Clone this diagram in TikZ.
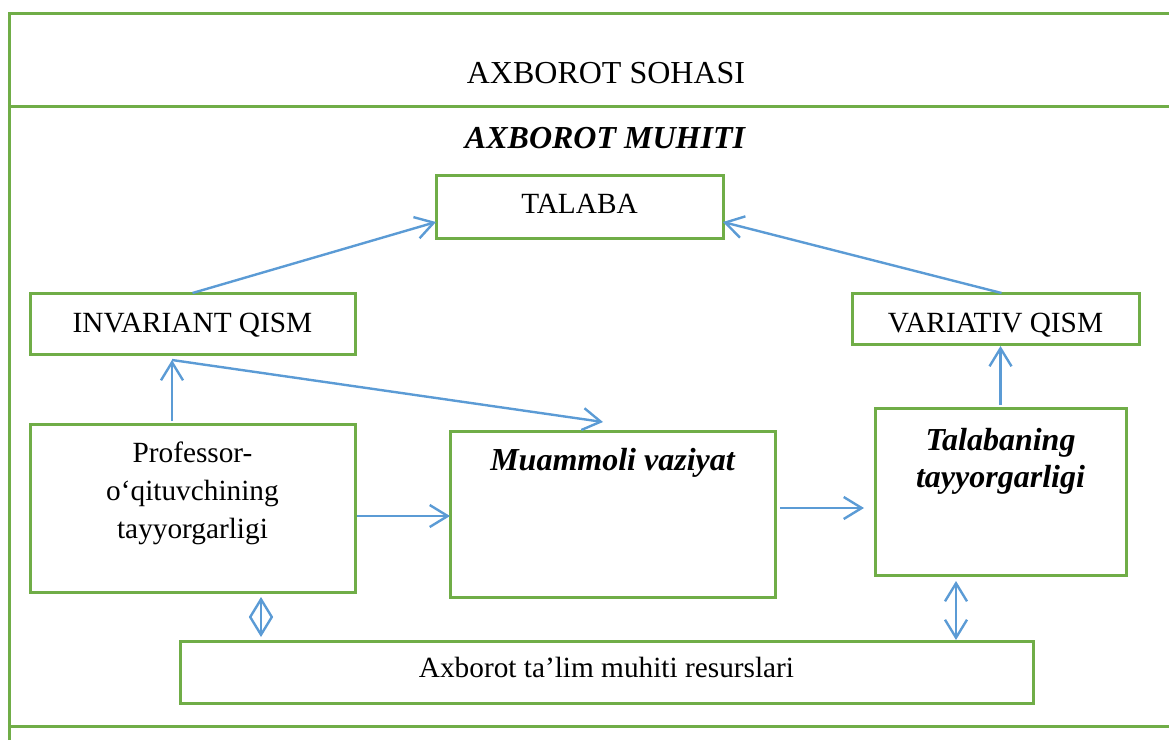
\documentclass[tikz,border=0pt]{standalone}
\usepackage{fontspec}
\setmainfont{Liberation Serif}
\usetikzlibrary{arrows.meta}
\definecolor{frgreen}{HTML}{70AD47}
\definecolor{arblue}{HTML}{5B9BD5}
\begin{document}
\begin{tikzpicture}[x=1pt,y=-1pt,
  font=\fontsize{29.3}{37}\selectfont,
  box/.style={draw=frgreen,line width=3pt,rectangle,inner sep=0pt,outer sep=0pt},
  txt/.style={anchor=base,inner sep=0pt,outer sep=0pt},
  bi/.style={txt,font=\fontsize{32}{38}\selectfont\bfseries\itshape},
  conn/.style={draw=arblue,line width=2.4pt,-{Straight Barb[length=18pt,width=22pt]}},
  dconn/.style={draw=arblue,line width=2.4pt,{Straight Barb[length=18pt,width=22pt]}-{Straight Barb[length=18pt,width=22pt]}}]
\useasboundingbox (0,0) rectangle (1169,740);
% outer frame
\draw[frgreen,line width=3pt] (9,740) -- (9,13) -- (1169,13);
\draw[frgreen,line width=3pt] (9,106) -- (1169,106);
\draw[frgreen,line width=3pt] (9,726) -- (1169,726);
% titles
\node[txt,font=\fontsize{32}{38}\selectfont] (sohasi) at (606,83) {AXBOROT SOHASI};
\node[bi] (muhiti) at (605,148) {AXBOROT MUHITI};
% boxes
\node[box,minimum width=287pt,minimum height=63pt] (tal) at (579.5,206.5) {};
\node[box,minimum width=325pt,minimum height=61pt] (inv) at (192.5,323.5) {};
\node[box,minimum width=287pt,minimum height=51pt] (var) at (995.5,318.5) {};
\node[box,minimum width=325pt,minimum height=168pt] (prof) at (192.5,508) {};
\node[box,minimum width=325pt,minimum height=166pt] (mua) at (612.5,514) {};
\node[box,minimum width=251pt,minimum height=167pt] (tb) at (1000.5,491.5) {};
\node[box,minimum width=853pt,minimum height=62pt] (res) at (606.5,672) {};
% texts
\node[txt] (talt) at (579.5,213) {TALABA};
\node[txt] (invt) at (192.5,332) {INVARIANT QISM};
\node[txt] (vart) at (995.5,332) {VARIATIV QISM};
\node[txt] (proft1) at (192.5,462) {Professor-};
\node[txt] (proft2) at (192.5,500) {o‘qituvchining};
\node[txt] (proft3) at (192.5,538) {tayyorgarligi};
\node[bi] (muat) at (612.5,470) {Muammoli vaziyat};
\node[bi] (tbt1) at (1000.5,450) {Talabaning};
\node[bi] (tbt2) at (1000.5,487) {tayyorgarligi};
\node[txt] (rest) at (606.5,677) {Axborot ta’lim muhiti resurslari};
% connector points
\coordinate (j) at (172,360);
\coordinate (mtip) at (603,422);
% connectors
\draw[conn] (inv.north) -- ([yshift=-15.5pt]tal.west);
\draw[conn] ([xshift=6pt]var.north) -- ([yshift=-15.5pt]tal.east);
\draw[conn] ([xshift=-20.5pt,yshift=3pt]prof.north) -- (j);
\draw[conn] (j) -- (mtip);
\draw[conn] ([xshift=2pt,yshift=-8pt]prof.east) -- ([yshift=-2pt]mua.west);
\draw[conn] ([xshift=5pt,yshift=6pt]mua.east) -- ([xshift=-11pt,yshift=-16.5pt]tb.west);
\draw[conn] ([yshift=3pt]tb.north) -- ([xshift=5pt,yshift=-2pt]var.south);
\draw[dconn] ([xshift=68.5pt,yshift=-5pt]prof.south) -- ([xshift=-345.5pt,yshift=4pt]res.north);
\draw[dconn] ([xshift=-44.5pt,yshift=-6pt]tb.south) -- ([xshift=349.5pt,yshift=1pt]res.north);
\end{tikzpicture}
\end{document}
